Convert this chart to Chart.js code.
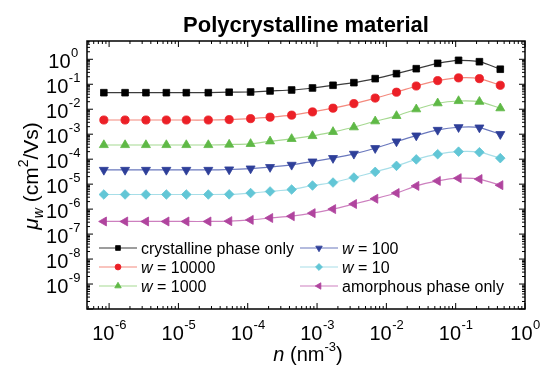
<!DOCTYPE html>
<html>
<head>
<meta charset="utf-8">
<title>Polycrystalline material</title>
<script src="https://cdn.jsdelivr.net/npm/chart.js@4.4.1/dist/chart.umd.min.js"></script>
<style>
  html, body { margin: 0; padding: 0; background: #ffffff; }
  #wrap { width: 541px; height: 367px; }
</style>
</head>
<body>
<div id="wrap"><canvas id="muChart" width="541" height="367"></canvas></div>
<script>
// carrier density n (nm^-3)
var nValues = [8.4e-7, 1.7e-6, 3.4e-6, 6.7e-6, 1.3e-5, 2.7e-5, 5.4e-5, 1.1e-4, 2.1e-4, 4.3e-4,
               8.6e-4, 1.7e-3, 3.4e-3, 6.9e-3, 0.014, 0.027, 0.055, 0.11, 0.22, 0.44];

// mobility mu_w (cm^2/Vs) for each curve
var muCrystalline = [0.046, 0.046, 0.046, 0.046, 0.046, 0.046, 0.048, 0.049, 0.054, 0.059,
                     0.071, 0.091, 0.116, 0.168, 0.266, 0.42, 0.69, 0.91, 0.80, 0.40];
var muW10000 = [0.0037, 0.0037, 0.0037, 0.0037, 0.0037, 0.0037, 0.00385, 0.0042, 0.0048, 0.0058,
                0.0078, 0.011, 0.0168, 0.028, 0.048, 0.085, 0.14, 0.18, 0.168, 0.091];
var muW1000 = [3.7e-4, 3.7e-4, 3.7e-4, 3.7e-4, 3.7e-4, 3.7e-4, 3.85e-4, 4.1e-4, 5.2e-4, 6.5e-4,
               8.5e-4, 1.24e-3, 1.9e-3, 3.3e-3, 5.4e-3, 0.010, 0.0174, 0.0214, 0.020, 0.011];
var muW100 = [3.7e-5, 3.7e-5, 3.7e-5, 3.7e-5, 3.7e-5, 3.7e-5, 3.85e-5, 4.2e-5, 4.8e-5, 5.9e-5,
              8.0e-5, 1.1e-4, 1.63e-4, 2.75e-4, 5.1e-4, 8.8e-4, 1.48e-3, 1.9e-3, 1.84e-3, 1.0e-3];
var muW10 = [3.85e-6, 3.85e-6, 3.85e-6, 3.85e-6, 3.85e-6, 3.85e-6, 3.9e-6, 4.4e-6, 5.1e-6, 6.1e-6,
             8.8e-6, 1.16e-5, 1.84e-5, 3.1e-5, 5.4e-5, 9.8e-5, 1.58e-4, 2.0e-4, 1.9e-4, 1.1e-4];
var muAmorphous = [3.2e-7, 3.2e-7, 3.2e-7, 3.2e-7, 3.2e-7, 3.2e-7, 3.3e-7, 3.7e-7, 4.4e-7, 5.2e-7,
                   6.9e-7, 1.0e-6, 1.6e-6, 2.6e-6, 4.4e-6, 8.5e-6, 1.35e-5, 1.73e-5, 1.6e-5, 9.1e-6];

// tick labels (exponents of 10)
var xTickExponents = [-6, -5, -4, -3, -2, -1, 0];
var yTickExponents = [0, -1, -2, -3, -4, -5, -6, -7, -8, -9];

var FONT = '"Liberation Sans", Arial, Helvetica, sans-serif';

function toPoints(ys){
	var pts = [];
	for(var i=0;i<nValues.length;i++){
		pts.push({x: nValues[i], y: ys[i]});
	}
	return pts;
}

function makeSet(label, ys, marker, lineColor, style, radius, rotation){
	return {
		label: label,
		data: toPoints(ys),
		borderColor: lineColor,
		borderWidth: 1.2,
		pointStyle: style,
		pointRadius: radius,
		pointRotation: rotation || 0,
		pointBackgroundColor: marker,
		pointBorderColor: marker,
		pointBorderWidth: 0.8,
		tension: 0.2,
		fill: false
	};
}

var datasets = [
	makeSet('crystalline phase only', muCrystalline, '#000000', '#3c3c3c', 'rect', 4.7, 0),
	makeSet('w = 10000', muW10000, '#ec2027', '#f48a7e', 'circle', 4.1, 0),
	makeSet('w = 1000', muW1000, '#5fb946', '#a6d991', 'triangle', 5.2, 0),
	makeSet('w = 100', muW100, '#2e3f99', '#6a78bd', 'triangle', 5.2, 180),
	makeSet('w = 10', muW10, '#62c6d6', '#a7dee8', 'rectRot', 4.8, 0),
	makeSet('amorphous phase only', muAmorphous, '#b0449e', '#cd80bf', 'triangle', 5.2, -90)
];

// legend layout: [dataset index, column, row]
var legendSlots = [[0,0,0],[1,0,1],[2,0,2],[3,1,0],[4,1,1],[5,1,2]];

// draws "10" with a raised exponent, centred on cx
function drawPow(ctx, cx, baseline, exp){
	var big = '20px ' + FONT, small = '13px ' + FONT;
	var e = String(exp);
	ctx.font = big;
	var w1 = ctx.measureText('10').width;
	ctx.font = small;
	var w2 = ctx.measureText(e).width;
	var x0 = cx - (w1 + w2) / 2;
	ctx.textAlign = 'left';
	ctx.textBaseline = 'alphabetic';
	ctx.font = big;
	ctx.fillText('10', x0, baseline);
	ctx.font = small;
	ctx.fillText(e, x0 + w1 + 0.5, baseline - 11.5);
}

// draws a run of [text, font, dy] pieces starting at x
function drawRuns(ctx, runs, x, y){
	ctx.textAlign = 'left';
	ctx.textBaseline = 'alphabetic';
	for(var i=0;i<runs.length;i++){
		ctx.font = runs[i][1];
		ctx.fillText(runs[i][0], x, y + (runs[i][2] || 0));
		x += ctx.measureText(runs[i][0]).width;
	}
	return x;
}

function runsWidth(ctx, runs){
	var w = 0;
	for(var i=0;i<runs.length;i++){
		ctx.font = runs[i][1];
		w += ctx.measureText(runs[i][0]).width;
	}
	return w;
}

function logTicks(scale, cb){
	var lo = Math.floor(Math.log10(scale.min)) - 1;
	var hi = Math.ceil(Math.log10(scale.max)) + 1;
	for(var e=lo;e<=hi;e++){
		for(var k=1;k<10;k++){
			var v = k * Math.pow(10, e);
			if(v < scale.min * 0.999 || v > scale.max * 1.001) continue;
			cb(scale.getPixelForValue(v), k === 1);
		}
	}
}

var framePlugin = {
	id: 'frame',
	afterDraw: function(chart){
		var ctx = chart.ctx;
		var a = chart.chartArea;
		var xs = chart.scales.x, ys = chart.scales.y;
		ctx.save();
		ctx.strokeStyle = '#000';
		ctx.fillStyle = '#000';

		// frame
		ctx.lineWidth = 1.5;
		ctx.strokeRect(a.left, a.top, a.right - a.left, a.bottom - a.top);

		// inward ticks on all four sides
		ctx.lineWidth = 1;
		ctx.beginPath();
		logTicks(xs, function(px, major){
			var len = major ? 6 : 3;
			ctx.moveTo(px, a.bottom); ctx.lineTo(px, a.bottom - len);
			ctx.moveTo(px, a.top); ctx.lineTo(px, a.top + len);
		});
		logTicks(ys, function(py, major){
			var len = major ? 6 : 3;
			ctx.moveTo(a.left, py); ctx.lineTo(a.left + len, py);
			ctx.moveTo(a.right, py); ctx.lineTo(a.right - len, py);
		});
		ctx.stroke();

		// tick labels
		for(var i=0;i<xTickExponents.length;i++){
			var px = xs.getPixelForValue(Math.pow(10, xTickExponents[i]));
			drawPow(ctx, px, a.bottom + 31, xTickExponents[i]);
		}
		for(var j=0;j<yTickExponents.length;j++){
			var py = ys.getPixelForValue(Math.pow(10, yTickExponents[j]));
			drawPow(ctx, 63, py + 9, yTickExponents[j]);
		}

		// title
		ctx.font = 'bold 22px ' + FONT;
		ctx.textAlign = 'center';
		ctx.textBaseline = 'alphabetic';
		ctx.fillText('Polycrystalline material', (a.left + a.right) / 2, 32);

		// x axis title
		var xr = [['n', 'italic 20px ' + FONT], [' (nm', '20px ' + FONT], ['-3', '13px ' + FONT, -10], [')', '20px ' + FONT]];
		var xw = runsWidth(ctx, xr);
		drawRuns(ctx, xr, (a.left + a.right) / 2 - xw / 2 + 2, 361);

		// y axis title, rotated
		var yr = [['\u03bc', 'italic 21px ' + FONT], ['w', 'italic 14px ' + FONT, 5], [' (cm', '21px ' + FONT], ['2', '14px ' + FONT, -10], ['/Vs)', '21px ' + FONT]];
		var yw = runsWidth(ctx, yr);
		ctx.save();
		ctx.translate(38, 176);
		ctx.rotate(-Math.PI / 2);
		drawRuns(ctx, yr, -yw / 2, 0);
		ctx.restore();

		// legend
		var colLine = [99, 300];
		var rowY = [248, 267, 286];
		for(var s=0;s<legendSlots.length;s++){
			var ds = chart.data.datasets[legendSlots[s][0]];
			var x0 = colLine[legendSlots[s][1]];
			var y0 = rowY[legendSlots[s][2]];
			ctx.strokeStyle = ds.borderColor;
			ctx.lineWidth = 1.2;
			ctx.beginPath();
			ctx.moveTo(x0, y0); ctx.lineTo(x0 + 38, y0);
			ctx.stroke();
			ctx.fillStyle = ds.pointBackgroundColor;
			ctx.strokeStyle = ds.pointBorderColor;
			ctx.lineWidth = 0.8;
			Chart.helpers.drawPoint(ctx, {
				pointStyle: ds.pointStyle,
				radius: ds.pointRadius * 0.72,
				rotation: ds.pointRotation,
				borderWidth: 0.8
			}, x0 + 19, y0);
			ctx.fillStyle = '#000';
			var label = ds.label;
			var runs;
			if(label.indexOf('w = ') === 0){
				runs = [['w', 'italic 16px ' + FONT], [label.substring(1), '16px ' + FONT]];
			}else{
				runs = [[label, '16px ' + FONT]];
			}
			drawRuns(ctx, runs, x0 + 42, y0 + 6);
		}
		ctx.restore();
	}
};

var ctx1 = document.getElementById('muChart').getContext('2d');
var muChart = new Chart(ctx1, {
	type: 'line',
	data: { datasets: datasets },
	options: {
		responsive: false,
		animation: false,
		layout: { padding: { left: 87, right: 16, top: 41, bottom: 58 } },
		plugins: {
			legend: { display: false },
			title: { display: false },
			tooltip: { enabled: false }
		},
		scales: {
			x: { type: 'logarithmic', min: 4.8e-7, max: 1, display: false },
			y: { type: 'logarithmic', min: 1e-10, max: 5.4, display: false }
		}
	},
	plugins: [framePlugin]
});
</script>
</body>
</html>
